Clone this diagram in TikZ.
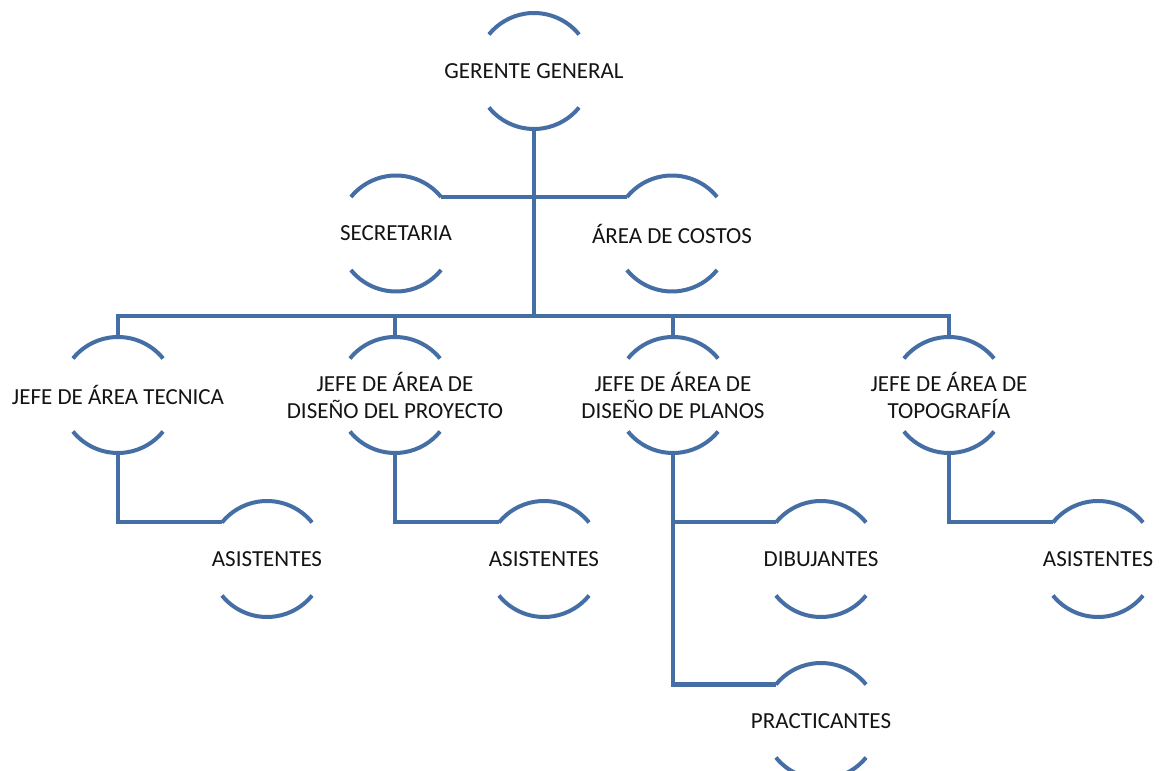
\documentclass[tikz,border=0pt]{standalone}
\usepackage{fontspec}
\setmainfont{Carlito}
\definecolor{orgblue}{RGB}{68,110,164}
\definecolor{orgtext}{RGB}{20,20,20}
\tikzset{
  unitshape/.style={circle,minimum size=116pt,inner sep=0pt,outer sep=0pt,draw=none},
  arcline/.style={draw=orgblue,line width=4pt},
  link/.style={draw=orgblue,line width=4pt,line join=miter},
  unittext/.style={align=center,text=orgtext,inner sep=0pt,
    font=\fontsize{23}{27}\selectfont},
}
% one unit of the chart: invisible circle, two blue caps and the label
\newcommand\orgunit[3]{%
  \node[unitshape] (#1) at (#2) {};
  \draw[arcline] (#1.39) arc[start angle=39,end angle=141,radius=58pt];
  \draw[arcline] (#1.-141) arc[start angle=-141,end angle=-39,radius=58pt];
  \node[unittext] (#1-t) at (#1.center) {#3};
}
\begin{document}
\begin{tikzpicture}[x=1pt,y=1pt]
\clip (0,0) rectangle (1170,771);
\fill[white] (0,0) rectangle (1170,771);

\orgunit{G}{534,700}{GERENTE GENERAL}
\orgunit{SEC}{396,537.5}{SECRETARIA}
\orgunit{COS}{672,537.5}{ÁREA DE COSTOS}
\orgunit{J1}{118,376}{JEFE DE ÁREA TECNICA}
\orgunit{J2}{395,376}{JEFE DE ÁREA DE\\DISEÑO DEL PROYECTO}
\orgunit{J3}{673,376}{JEFE DE ÁREA DE\\DISEÑO DE PLANOS}
\orgunit{J4}{949,376}{JEFE DE ÁREA DE\\TOPOGRAFÍA}
\orgunit{A1}{267,212}{ASISTENTES}
\orgunit{A2}{544,212}{ASISTENTES}
\orgunit{D}{821,212}{DIBUJANTES}
\orgunit{P}{821,50}{PRACTICANTES}
\orgunit{A3}{1098,212}{ASISTENTES}

\coordinate (bus) at (534,455);

% trunk and staff links
\draw[link] (G.south) -- (bus);
\draw[link] (SEC.39) -- (SEC.39 -| G.south);
\draw[link] (COS.141) -- (COS.141 -| G.south);

% horizontal bus to the area heads
\draw[link] (J1.north) |- (bus) -| (J4.north);
\draw[link] (J2.north) -- (J2.north |- bus);
\draw[link] (J3.north) -- (J3.north |- bus);

% area heads to their staff
\draw[link] (J1.south) |- (A1.141);
\draw[link] (J2.south) |- (A2.141);
\draw[link] (J3.south) |- (P.141);
\draw[link] (J3.south |- D.141) -- (D.141);
\draw[link] (J4.south) |- (A3.141);
\end{tikzpicture}
\end{document}
